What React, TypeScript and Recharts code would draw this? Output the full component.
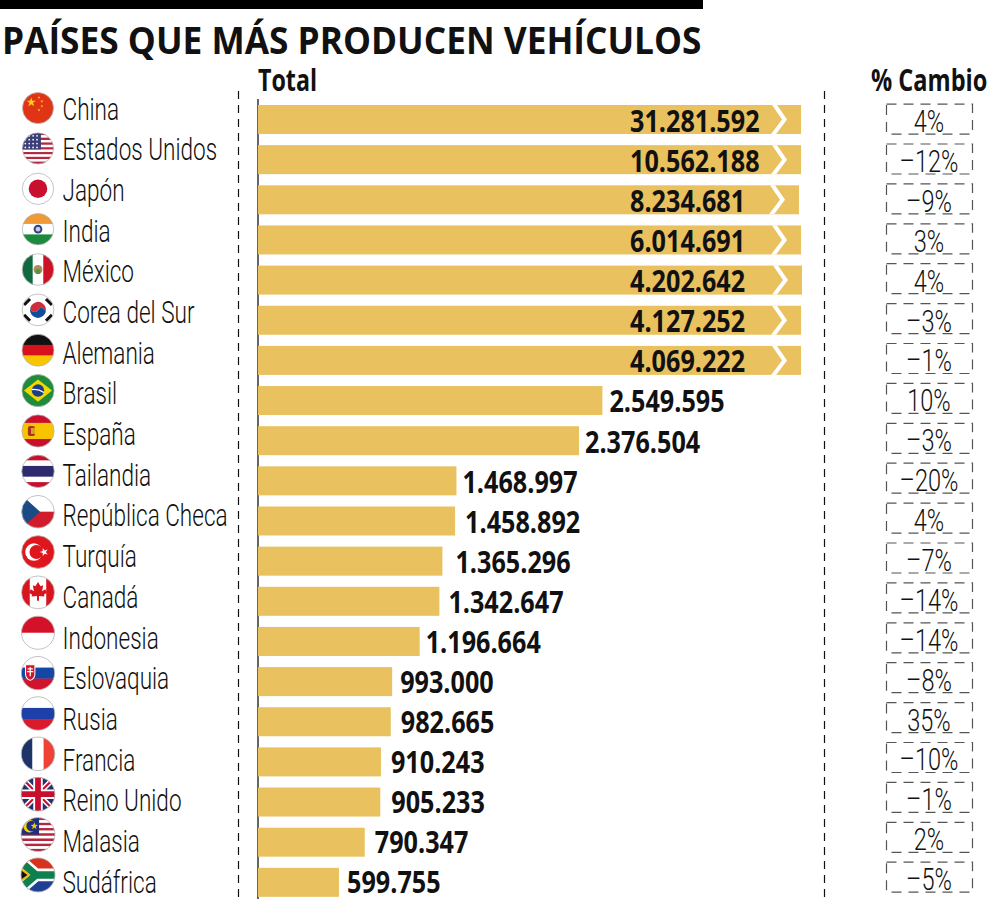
import React from 'react';
import { BarChart, Bar, XAxis, YAxis, LabelList } from 'recharts';

const countries = ['China', 'Estados Unidos', 'Japón', 'India', 'México', 'Corea del Sur', 'Alemania', 'Brasil', 'España', 'Tailandia', 'República Checa', 'Turquía', 'Canadá', 'Indonesia', 'Eslovaquia', 'Rusia', 'Francia', 'Reino Unido', 'Malasia', 'Sudáfrica'];
const totals = [31281592, 10562188, 8234681, 6014691, 4202642, 4127252, 4069222, 2549595, 2376504, 1468997, 1458892, 1365296, 1342647, 1196664, 993000, 982665, 910243, 905233, 790347, 599755];
// the first seven bars are cut short on the page, so they get their drawn length here
const cutBars = [4020000, 4020000, 4005000, 4020000, 4027000, 4020000, 4020000];
const changes = ['4%', '–12%', '–9%', '3%', '4%', '–3%', '–1%', '10%', '–3%', '–20%', '4%', '–7%', '–14%', '–14%', '–8%', '35%', '–10%', '–1%', '2%', '–5%'];

const data = countries.map((name, i) => ({
  name,
  total: totals[i],
  drawn: cutBars[i] ?? totals[i],
}));

const GOLD = '#E9C15F';
// distance from bar end to its label, for the bars whose label sits outside
const labelGaps = [0, 0, 0, 0, 0, 0, 0, 7, 6, 6, 10, 13, 9, 6, 8, 10, 10, 11, 10, 8];

const formatTotal = (v: number) => String(v).replace(/\B(?=(\d{3})+$)/g, '.');

const star = (cx: number, cy: number, r: number, fill: string, rot = -90) => {
  const pts: string[] = [];
  for (let i = 0; i < 10; i++) {
    const rad = i % 2 ? r * 0.4 : r;
    const a = ((rot + i * 36) * Math.PI) / 180;
    pts.push(`${cx + rad * Math.cos(a)},${cy + rad * Math.sin(a)}`);
  }
  return <polygon points={pts.join(' ')} fill={fill} />;
};

const hBands = (colors: string[], weights?: number[]) => {
  const sum = (weights ?? colors.map(() => 1)).reduce((a, b) => a + b, 0);
  let y = -16;
  return colors.map((c, i) => {
    const h = (32 * (weights ? weights[i] : 1)) / sum;
    const el = <rect key={i} x={-17} y={y} width={34} height={h + 0.2} fill={c} />;
    y += h;
    return el;
  });
};

const vBands = (colors: string[]) =>
  colors.map((c, i) => <rect key={i} x={-16 + (i * 32) / colors.length} y={-17} width={32 / colors.length + 0.2} height={34} fill={c} />);

const usStripes = () => {
  const out = [];
  for (let i = 0; i < 13; i++) {
    out.push(<rect key={i} x={-17} y={-16 + (i * 32) / 13} width={34} height={32 / 13} fill={i % 2 ? '#fff' : '#B5263F'} />);
  }
  return out;
};

const flags: Record<string, React.ReactNode> = {
  China: (
    <>
      <rect x={-17} y={-17} width={34} height={34} fill="#DF3416" />
      {star(-7, -6, 5, '#FBD116')}
      {star(1, -11, 1.6, '#FBD116')}
      {star(4, -7, 1.6, '#FBD116')}
      {star(4, -2, 1.6, '#FBD116')}
      {star(1, 2, 1.6, '#FBD116')}
    </>
  ),
  'Estados Unidos': (
    <>
      {usStripes()}
      <rect x={-17} y={-16} width={20} height={17} fill="#3C3F77" />
      <g fill="#fff">
        {[-13, -9, -5, -1].map((y) => [-13, -9, -5, -1].map((x) => <circle key={`${x}${y}`} cx={x} cy={y} r={0.9} />))}
      </g>
    </>
  ),
  Japón: (
    <>
      <rect x={-17} y={-17} width={34} height={34} fill="#fff" />
      <circle r={9.5} fill="#C8102E" />
    </>
  ),
  India: (
    <>
      {hBands(['#F09A36', '#fff', '#1C8A3E'])}
      <circle r={4.4} fill="#33407F" />
      <circle r={2.4} fill="#C5CBE4" />
    </>
  ),
  México: (
    <>
      {vBands(['#11693F', '#fff', '#CE1126'])}
      <circle r={4.5} fill="#A9905A" />
      <circle cy={2} r={2.6} fill="#5E8C4F" />
    </>
  ),
  'Corea del Sur': (
    <>
      <rect x={-17} y={-17} width={34} height={34} fill="#fff" />
      <path d="M-7,-4 A8,8 0 0 1 7,4 A4,4 0 0 0 0,0 A4,4 0 0 1 -7,-4 Z" fill="#CD2E3A" />
      <path d="M-7,-4 A8,8 0 0 0 7,4 A4,4 0 0 0 0,0 A4,4 0 0 1 -7,-4 Z" fill="#0F4C9C" />
      <g stroke="#111" strokeWidth={3}>
        <line x1={-14} y1={-5} x2={-8} y2={-11} />
        <line x1={14} y1={-5} x2={8} y2={-11} />
        <line x1={-14} y1={5} x2={-8} y2={11} />
        <line x1={14} y1={5} x2={8} y2={11} />
      </g>
    </>
  ),
  Alemania: <>{hBands(['#111', '#D8121C', '#F7C600'])}</>,
  Brasil: (
    <>
      <rect x={-17} y={-17} width={34} height={34} fill="#1E8C3A" />
      <polygon points="-14,0 0,-11 14,0 0,11" fill="#F5D800" />
      <circle r={6.2} fill="#1D3C8A" />
      <path d="M-6,-1 Q0,-2 6,2" stroke="#fff" strokeWidth={1.2} fill="none" />
    </>
  ),
  España: (
    <>
      {hBands(['#C8102E', '#F8C400', '#C8102E'], [1, 2, 1])}
      <rect x={-10} y={-5} width={7} height={10} rx={2} fill="#A8301F" />
      <rect x={-7} y={-3} width={4} height={6} fill="#D9A21B" />
    </>
  ),
  Tailandia: <>{hBands(['#C8102E', '#fff', '#2D2A6E', '#fff', '#C8102E'], [1, 1, 2, 1, 1])}</>,
  'República Checa': (
    <>
      {hBands(['#fff', '#D01C2C'])}
      <polygon points="-17,-17 2,0 -17,17" fill="#1A4B86" />
    </>
  ),
  Turquía: (
    <>
      <rect x={-17} y={-17} width={34} height={34} fill="#E0161F" />
      <circle cx={-4} r={8.5} fill="#fff" />
      <circle cx={-1.5} r={6.8} fill="#E0161F" />
      {star(6, 0, 4.2, '#fff', 180)}
    </>
  ),
  Canadá: (
    <>
      {vBands(['#D8141E', '#fff', '#fff', '#D8141E'])}
      <path d="M0,-10 L2.5,-6 L5,-7 L4,-1 L7,-3 L9,0 L6,2 L6,4 L1,3.5 L1,8 L-1,8 L-1,3.5 L-6,4 L-6,2 L-9,0 L-7,-3 L-4,-1 L-5,-7 L-2.5,-6 Z" fill="#D8141E" />
    </>
  ),
  Indonesia: <>{hBands(['#D5112A', '#fff'])}</>,
  Eslovaquia: (
    <>
      {hBands(['#fff', '#1446A6', '#D1132C'])}
      <path d="M-12,-8 H-3 V1 Q-3,5 -7.5,7 Q-12,5 -12,1 Z" fill="#D1132C" stroke="#fff" />
      <path d="M-7.5,-6 V3 M-10,-4 H-5 M-10.5,-1.5 H-4.5" stroke="#fff" strokeWidth={1.2} />
    </>
  ),
  Rusia: <>{hBands(['#fff', '#1C3FA8', '#DB1A2C'])}</>,
  Francia: <>{vBands(['#1E3468', '#fff', '#EF4135'])}</>,
  'Reino Unido': (
    <>
      <rect x={-17} y={-17} width={34} height={34} fill="#27306E" />
      <path d="M-17,-17 L17,17 M17,-17 L-17,17" stroke="#fff" strokeWidth={5} />
      <path d="M-17,-17 L17,17 M17,-17 L-17,17" stroke="#C8102E" strokeWidth={2} />
      <path d="M0,-17 V17 M-17,0 H17" stroke="#fff" strokeWidth={9} />
      <path d="M0,-17 V17 M-17,0 H17" stroke="#C8102E" strokeWidth={5.5} />
    </>
  ),
  Malasia: (
    <>
      {usStripes()}
      <rect x={-17} y={-16} width={18} height={16} fill="#1F2F80" />
      <circle cx={-8} cy={-8} r={6} fill="#F5D000" />
      <circle cx={-6} cy={-8} r={5} fill="#1F2F80" />
      {star(-3.5, -8, 3.6, '#F5D000')}
    </>
  ),
  Sudáfrica: (
    <>
      <rect x={-17} y={-17} width={34} height={17} fill="#D8321E" />
      <rect x={-17} y={0} width={34} height={17} fill="#1E3F94" />
      <path d="M-17,-13 L-2,0 L-17,13 M-2,0 H17" stroke="#fff" strokeWidth={12} fill="none" />
      <path d="M-17,-13 L-2,0 L-17,13 M-2,0 H17" stroke="#0E7F4F" strokeWidth={7} fill="none" />
      <polygon points="-17,-8 -7,0 -17,8" fill="#F7B718" />
      <polygon points="-17,-5 -10,0 -17,5" fill="#111" />
    </>
  ),
};

const Flag = ({ name, index, cx, cy, r }: { name: string; index: number; cx: number; cy: number; r: number }) => (
  <g transform={`translate(${cx},${cy}) scale(${r / 16})`}>
    <clipPath id={`flag-${index}`}>
      <circle r={16} />
    </clipPath>
    <g clipPath={`url(#flag-${index})`}>{flags[name]}</g>
    <circle r={16} fill="none" stroke="#b5b5b5" strokeWidth={0.8} />
  </g>
);

// no condensed font on the machine, so both text styles are squeezed horizontally
const LightText = ({ x, y, size, squeeze, anchor, children }: any) => (
  <text
    transform={`translate(${x},${y}) scale(${squeeze},1)`}
    fontFamily="Roboto, sans-serif"
    fontWeight={300}
    fontSize={size}
    textAnchor={anchor ?? 'start'}
    fill="#111"
  >
    {children}
  </text>
);

const BoldText = ({ x, y, size, squeeze, children }: any) => (
  <text
    transform={`translate(${x},${y}) scale(${squeeze},1)`}
    fontFamily="Open Sans, sans-serif"
    fontWeight={700}
    fontSize={size}
    fill="#111"
  >
    {children}
  </text>
);

const CountryTick = (props: any) => {
  const { y, payload, index } = props;
  const i = payload.index ?? index;
  return (
    <g>
      <Flag name={payload.value} index={i} cx={38} cy={y - 11 + 0.21 * i} r={15.5 + 0.08 * i} />
      <LightText x={62.5} y={y + 0.5 + 0.54 * i} size={32} squeeze={0.705}>
        {payload.value}
      </LightText>
    </g>
  );
};

const ChangeTick = (props: any) => {
  const { y, payload, index } = props;
  const i = payload.index ?? index;
  const boxMid = y - 0.25 * i;
  return (
    <g>
      <rect x={886.5} y={boxMid - 15} width={86} height={30} fill="none" stroke="#555" strokeWidth={1.2} strokeDasharray="10 7" />
      <LightText x={929} y={boxMid + 13} size={31} squeeze={0.76} anchor="middle">
        {changes[i]}
      </LightText>
    </g>
  );
};

const CutBar = (props: any) => {
  const { x, y, width, height, index } = props;
  const end = x + width;
  const mid = y + height / 2;
  return (
    <g>
      <rect x={x} y={y} width={width} height={height} fill={GOLD} />
      {index < cutBars.length && (
        <polygon
          points={`${end - 29},${y} ${end - 24},${y} ${end - 14},${mid} ${end - 25},${y + height} ${end - 30},${y + height} ${end - 19},${mid}`}
          fill="#fff"
        />
      )}
    </g>
  );
};

const TotalLabel = (props: any) => {
  const { x, y, width, height, index, value } = props;
  const left = index < cutBars.length ? 630 : x + width + labelGaps[index];
  return (
    <BoldText x={left} y={y + height / 2 + 12.5 - 0.08 * index} size={30} squeeze={0.84}>
      {formatTotal(value)}
    </BoldText>
  );
};

export default function App() {
  return (
    <div style={{ position: 'absolute', left: 0, top: 0, width: 1008, height: 918, background: '#fff' }}>
      <BarChart
        width={1008}
        height={918}
        data={data}
        layout="vertical"
        margin={{ top: 99, right: 0, bottom: 16, left: 0 }}
        barSize={29}
      >
        <rect x={0} y={0} width={703} height={9} fill="#000" />
        <BoldText x={2} y={54} size={37} squeeze={0.953}>
          PAÍSES QUE MÁS PRODUCEN VEHÍCULOS
        </BoldText>
        <BoldText x={258} y={91} size={31} squeeze={0.75}>Total</BoldText>
        <BoldText x={871} y={91} size={31} squeeze={0.76}>% Cambio</BoldText>
        <line x1={238.5} y1={91} x2={238.5} y2={900} stroke="#111" strokeWidth={1.2} strokeDasharray="8 6" />
        <line x1={824.5} y1={91} x2={824.5} y2={900} stroke="#111" strokeWidth={1.2} strokeDasharray="8 6" />
        <line x1={258} y1={99} x2={258} y2={899} stroke="#333" strokeWidth={1.5} />
        <XAxis type="number" domain={[0, 4027000]} allowDataOverflow hide />
        <YAxis
          yAxisId="left"
          type="category"
          dataKey="name"
          width={258}
          interval={0}
          tickLine={false}
          axisLine={false}
          tick={CountryTick}
        />
        <YAxis
          yAxisId="right"
          orientation="right"
          type="category"
          dataKey="name"
          width={206}
          interval={0}
          tickLine={false}
          axisLine={false}
          tick={ChangeTick}
        />
        <Bar yAxisId="left" dataKey="drawn" fill={GOLD} shape={CutBar} isAnimationActive={false}>
          <LabelList dataKey="total" content={TotalLabel} />
        </Bar>
      </BarChart>
    </div>
  );
}
